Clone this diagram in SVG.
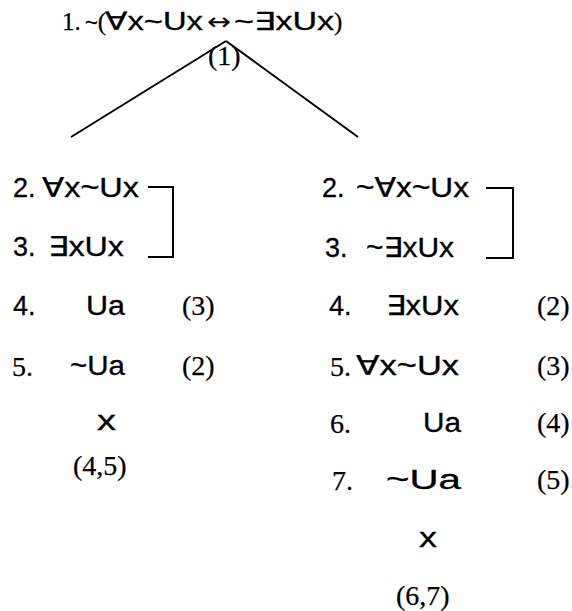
<svg xmlns="http://www.w3.org/2000/svg" width="572" height="611" viewBox="0 0 572 611">
<style>
.s{font-family:"Liberation Sans","DejaVu Sans",Arial,sans-serif;font-size:27px;fill:#000;stroke:#000;stroke-width:0.3}
.r{font-family:"Liberation Serif","DejaVu Serif","Times New Roman",serif;font-size:28px;fill:#000;stroke:#000;stroke-width:0.25}
.t{font-size:25px}
.a{font-family:"DejaVu Sans",sans-serif;font-size:24px;fill:#000}
.ln{stroke:#000;stroke-width:2;fill:none}
.br{stroke:#000;stroke-width:2;fill:none}
</style>
<rect width="572" height="611" fill="#fff"/>
<g id="root">
<text class="r t" x="62" y="30">1.</text>
<text class="s" x="85" y="30" style="font-size:22px">~<tspan class="r t">(</tspan></text>
<text class="s" x="105" y="30" textLength="98" lengthAdjust="spacingAndGlyphs" style="font-size:25px">∀x~Ux</text>
<text class="a" x="207" y="30" textLength="24" lengthAdjust="spacingAndGlyphs">↔</text>
<text class="s" x="234" y="30" textLength="100" lengthAdjust="spacingAndGlyphs" style="font-size:25px">~∃xUx</text>
<text class="r t" x="334" y="30">)</text>
<text class="r" x="208" y="65">(1)</text>
</g>
<g id="connectors">
<line class="ln" x1="226" y1="41" x2="71" y2="137"/>
<line class="ln" x1="226" y1="41" x2="358" y2="137"/>
</g>
<g id="left-branch">
<g id="L2"><text class="s" x="13" y="197">2.</text><text class="s" x="42" y="197" textLength="97" lengthAdjust="spacingAndGlyphs">∀x~Ux</text></g>
<g id="L3"><text class="s" x="13" y="256">3.</text><text class="s" x="48" y="256" textLength="76" lengthAdjust="spacingAndGlyphs">∃xUx</text></g>
<path class="br" d="M148,187 H173 V257 H148"/>
<g id="L4"><text class="s" x="13" y="315">4.</text><text class="s" x="86" y="315" textLength="39" lengthAdjust="spacingAndGlyphs">Ua</text><text class="r" x="182" y="315">(3)</text></g>
<g id="L5"><text class="r" x="12" y="376">5.</text><text class="s" x="70" y="375" textLength="55" lengthAdjust="spacingAndGlyphs">~Ua</text><text class="r" x="182" y="375">(2)</text></g>
<g id="Lx"><text class="s" x="97" y="430" textLength="19" lengthAdjust="spacingAndGlyphs">x</text></g>
<g id="L45"><text class="r" x="73" y="475">(4,5)</text></g>
</g>
<g id="right-branch">
<g id="R2"><text class="s" x="322" y="197">2.</text><text class="s" x="356" y="197" textLength="113" lengthAdjust="spacingAndGlyphs">~∀x~Ux</text></g>
<g id="R3"><text class="s" x="325" y="257">3.</text><text class="s" x="366" y="257" textLength="88" lengthAdjust="spacingAndGlyphs">~∃xUx</text></g>
<path class="br" d="M486,188 H513 V258 H486"/>
<g id="R4"><text class="s" x="329" y="315">4.</text><text class="s" x="386" y="315" textLength="73" lengthAdjust="spacingAndGlyphs">∃xUx</text><text class="r" x="537" y="315">(2)</text></g>
<g id="R5"><text class="r" x="330" y="376">5.</text><text class="s" x="356" y="375" textLength="103" lengthAdjust="spacingAndGlyphs">∀x~Ux</text><text class="r" x="537" y="375">(3)</text></g>
<g id="R6"><text class="r" x="330" y="433">6.</text><text class="s" x="423" y="432" textLength="38" lengthAdjust="spacingAndGlyphs">Ua</text><text class="r" x="537" y="432">(4)</text></g>
<g id="R7"><text class="r" x="332" y="490">7.</text><text class="s" x="386" y="489" textLength="75" lengthAdjust="spacingAndGlyphs">~Ua</text><text class="r" x="537" y="489">(5)</text></g>
<g id="Rx"><text class="s" x="419" y="547" textLength="18" lengthAdjust="spacingAndGlyphs">x</text></g>
<g id="R67"><text class="r" x="396" y="605">(6,7)</text></g>
</g>
</svg>
